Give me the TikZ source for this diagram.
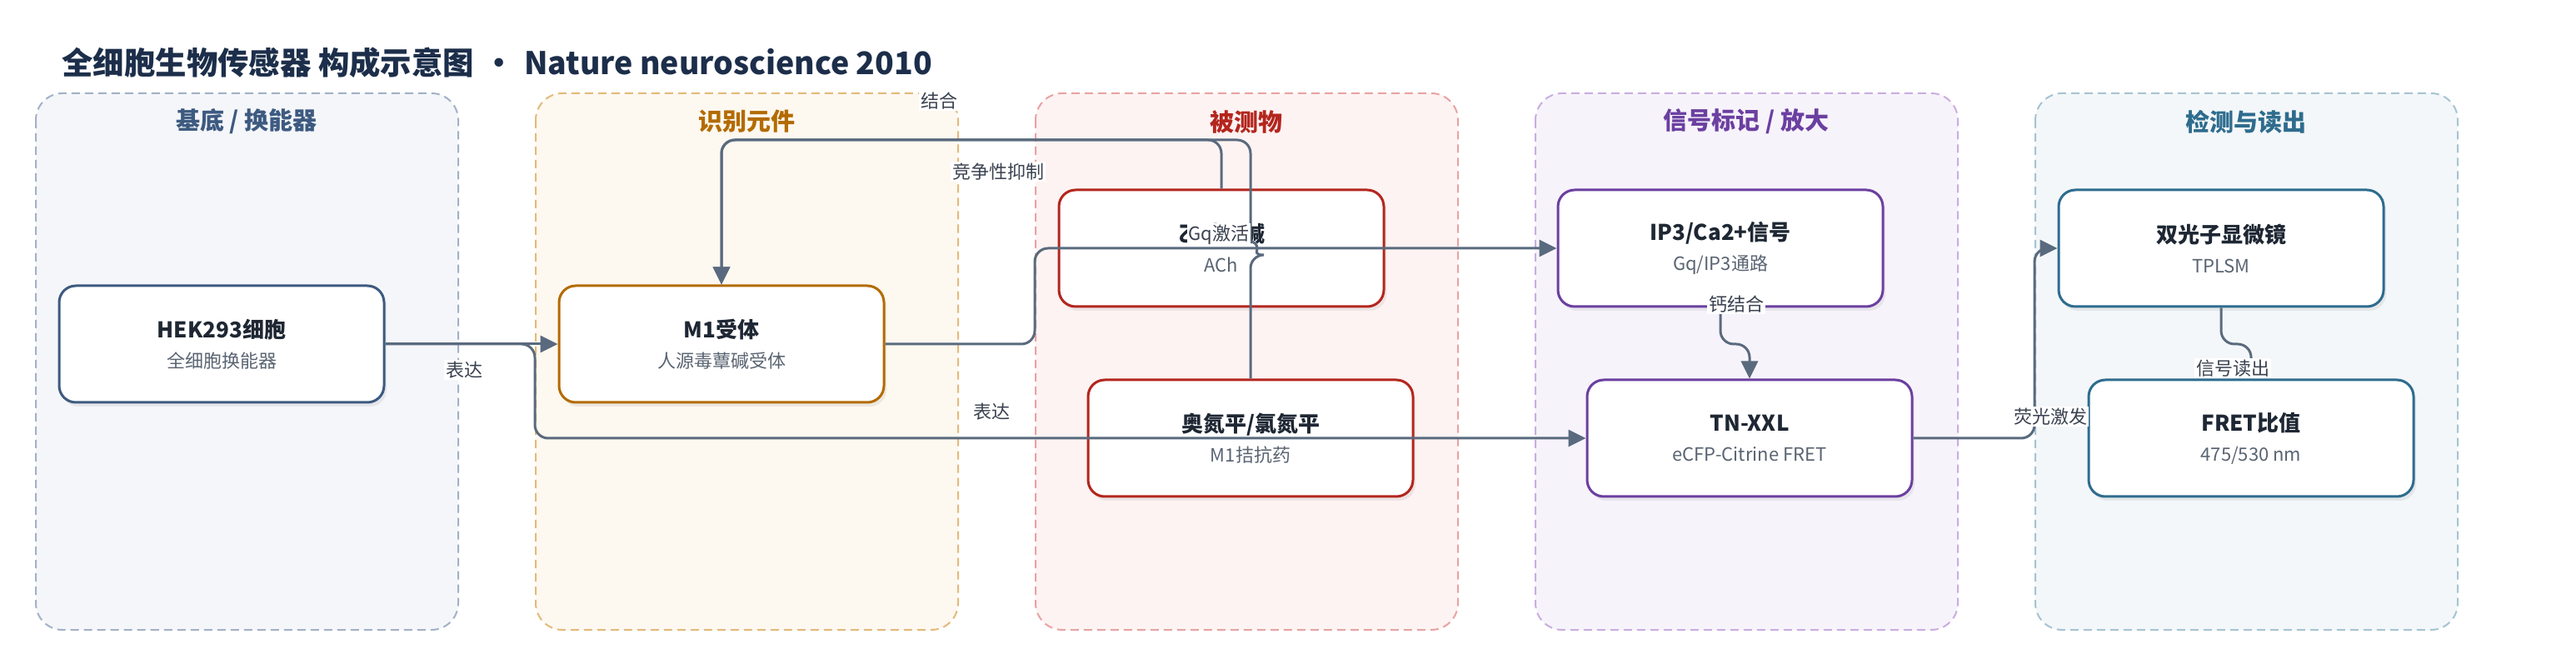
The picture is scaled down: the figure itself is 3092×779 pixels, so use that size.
\documentclass[tikz,border=0pt]{standalone}
\usepackage{fontspec}
\setmainfont{Noto Sans CJK SC}
\usetikzlibrary{arrows.meta,shadows}
\definecolor{ink}{HTML}{1E2733}
\definecolor{subc}{HTML}{5A6472}
\definecolor{connc}{HTML}{5A6A7E}
\definecolor{labc}{HTML}{3A4250}
\definecolor{titlec}{HTML}{1C2E4A}
\definecolor{lbA}{HTML}{A3B1C6}\definecolor{lfA}{HTML}{F4F6FA}\definecolor{ltA}{HTML}{3D5A80}
\definecolor{lbB}{HTML}{E3BA7A}\definecolor{lfB}{HTML}{FDF8F0}\definecolor{ltB}{HTML}{B36B00}
\definecolor{lbC}{HTML}{E8A3A3}\definecolor{lfC}{HTML}{FDF3F2}\definecolor{ltC}{HTML}{B3261E}
\definecolor{lbD}{HTML}{C9AEE0}\definecolor{lfD}{HTML}{F7F3FB}\definecolor{ltD}{HTML}{6B3FA0}
\definecolor{lbE}{HTML}{A6C4D2}\definecolor{lfE}{HTML}{F3F7F9}\definecolor{ltE}{HTML}{2E6C8E}
\tikzset{
  lanebox/.style 2 args={draw=#1, fill=#2, line width=1pt, dash pattern=on 5pt off 3pt, rounded corners=16pt},
  lanetitle/.style={font=\fontsize{14.5pt}{17pt}\selectfont\bfseries, text=#1},
  nbox/.style={draw=#1, fill=white, line width=1.5pt, rounded corners=10pt,
    minimum width=195pt, minimum height=70pt, align=center, inner sep=0pt,
    font=\fontsize{11pt}{18pt}\selectfont, text=subc,
    drop shadow={opacity=0.13, shadow xshift=1.5pt, shadow yshift=-2.5pt}},
  conn/.style={draw=connc, line width=1.5pt, rounded corners=8pt},
  arr/.style={-{Triangle[length=10.5pt,width=10pt]}},
  lbl/.style={fill=white, inner sep=1pt, font=\fontsize{11pt}{13pt}\selectfont, text=labc},
}
\newcommand{\nt}[1]{{\fontsize{13pt}{18pt}\selectfont\bfseries\color{ink}#1}}
\begin{document}
\begin{tikzpicture}[x=0.5pt,y=-0.5pt]
\useasboundingbox (0,0) rectangle (3092,779);
\fill[white] (0,0) rectangle (3092,779);
% title
\node[anchor=west, inner sep=0pt, font=\fontsize{18.7pt}{22pt}\selectfont\bfseries, text=titlec] (title) at (74,75)
  {全细胞生物传感器 构成示意图\hspace{0.3em}•\hspace{0.3em}Nature neuroscience 2010};
% lanes
\draw[lanebox={lbA}{lfA}] (43,112) rectangle (550,756);
\draw[lanebox={lbB}{lfB}] (643,112) rectangle (1150,756);
\draw[lanebox={lbC}{lfC}] (1243,112) rectangle (1750,756);
\draw[lanebox={lbD}{lfD}] (1843,112) rectangle (2350,756);
\draw[lanebox={lbE}{lfE}] (2443,112) rectangle (2950,756);
\node[lanetitle=ltA] (lt1) at (296,146) {基底 / 换能器};
\node[lanetitle=ltB] (lt2) at (896,146) {识别元件};
\node[lanetitle=ltC] (lt3) at (1496,146) {被测物};
\node[lanetitle=ltD] (lt4) at (2096,146) {信号标记 / 放大};
\node[lanetitle=ltE] (lt5) at (2696,146) {检测与读出};
% nodes
\node[nbox=ltA] (hek) at (266,413) {\nt{HEK293细胞}\\全细胞换能器};
\node[nbox=ltB] (m1) at (866,413) {\nt{M1受体}\\人源毒蕈碱受体};
\node[nbox=ltC] (ach) at (1466,298) {\nt{乙酰胆碱}\\ACh};
\node[nbox=ltC] (ola) at (1501,526) {\nt{奥氮平/氯氮平}\\M1拮抗药};
\node[nbox=ltD] (ip3) at (2065,298) {\nt{IP3/Ca2+信号}\\Gq/IP3通路};
\node[nbox=ltD] (tn) at (2100,526) {\nt{TN-XXL}\\eCFP-Citrine FRET};
\node[nbox=ltE] (tp) at (2666,298) {\nt{双光子显微镜}\\TPLSM};
\node[nbox=ltE] (fret) at (2702,526) {\nt{FRET比值}\\475/530 nm};
% helper coordinates
\coordinate (j1) at (642,0);
\coordinate (j2) at (1242,0);
\coordinate (j3) at (2442,0);
\coordinate (toprow) at (0,168);
\coordinate (midrow) at (0,413);
% connectors
\draw[conn,arr] (hek.east) -- (m1.west);
\draw[conn,arr] (hek.east) -- (j1 |- hek.east) -- (j1 |- tn.west) -- (tn.west);
\draw[conn,arr] (m1.east) -- (j2 |- m1.east) -- (j2 |- ip3.west) -- (ip3.west);
\draw[conn,arr] (ach.north) -- (ach.north |- toprow) -- (m1.north |- toprow) -- (m1.north);
\draw[conn,arr] (ola.north) -- ([yshift=-4pt]ola.north |- ip3.west) [sharp corners]
  arc[start angle=-90, end angle=90, radius=4pt] [rounded corners=8pt]
  -- (ola.north |- toprow) -- (m1.north |- toprow) -- (m1.north);
\draw[conn,arr] (ip3.south) -- (ip3.south |- midrow) -- (tn.north |- midrow) -- (tn.north);
\draw[conn,arr] (tn.east) -- (j3 |- tn.east) -- (j3 |- tp.west) -- (tp.west);
\draw[conn,arr] (tp.south) -- (tp.south |- midrow) -- (fret.north |- midrow) -- (fret.north);
% labels
\node[lbl] (l1) at (557,444) {表达};
\node[lbl] (l2) at (1190,494) {表达};
\node[lbl] (l3) at (1127,121) {结合};
\node[lbl] (l4) at (1198,206) {竞争性抑制};
\node[lbl] (l5) at (1463,282) {Gq激活};
\node[lbl] (l6) at (2084,365) {钙结合};
\node[lbl] (l7) at (2461,500) {荧光激发};
\node[lbl] (l8) at (2680,442) {信号读出};
\end{tikzpicture}
\end{document}
